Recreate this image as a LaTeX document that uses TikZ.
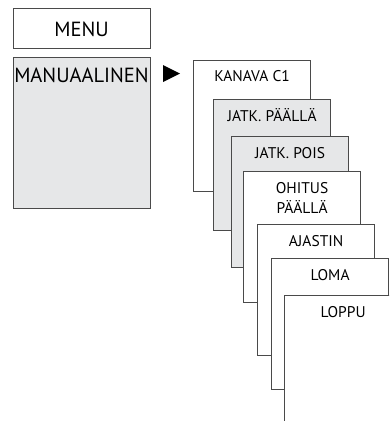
\documentclass[tikz,border=0pt]{standalone}
\usepackage{fontspec}
\setmainfont{PT Sans}
\definecolor{boxgray}{HTML}{E6E7E8}
\definecolor{linegray}{HTML}{4A4A4A}
\tikzset{
  box/.style={draw=linegray, line width=1.2pt, fill=white, anchor=north west, minimum width=117pt, minimum height=131pt, inner sep=0pt},
  graybox/.style={box, fill=boxgray},
  small/.style={anchor=base, inner sep=0pt, font=\fontsize{15.5}{18}\selectfont, text=black},
  big/.style={anchor=base, inner sep=0pt, font=\fontsize{20.5}{24}\selectfont, text=black},
}
\begin{document}
\begin{tikzpicture}[x=1pt, y=-1pt]
\useasboundingbox (0,0) rectangle (389,421);
\clip (0,0) rectangle (389,421);
\node[box, minimum width=137pt, minimum height=40pt] (menu) at (13,8) {};
\node[big] (menut) at (81.5,36) {MENU};
\node[graybox, minimum width=137pt, minimum height=151pt] (man) at (13,57) {};
\node[big] (mant) at (81.5,82) {MANUAALINEN};
\fill[black] (163,65) coordinate (t1) -- (163,82) -- (180,73.5) -- cycle;
\node[box] (b1) at (193,60) {};
\node[small] at ([yshift=-21pt]b1.north) {KANAVA C1};
\node[graybox] (b2) at (213,99) {};
\node[small] at ([yshift=-22pt]b2.north) {JATK. PÄÄLLÄ};
\node[graybox] (b3) at (231,136) {};
\node[small] at ([yshift=-22pt]b3.north) {JATK. POIS};
\node[box] (b4) at (243,171) {};
\node[small] at ([yshift=-22pt]b4.north) {OHITUS};
\node[small] at ([yshift=-42pt]b4.north) {PÄÄLLÄ};
\node[box] (b5) at (257,224) {};
\node[small] at ([yshift=-22pt]b5.north) {AJASTIN};
\node[box] (b6) at (271,258) {};
\node[small] at ([yshift=-22pt]b6.north) {LOMA};
\node[box] (b7) at (284,295) {};
\node[small] at ([yshift=-22pt]b7.north) {LOPPU};
\end{tikzpicture}
\end{document}
